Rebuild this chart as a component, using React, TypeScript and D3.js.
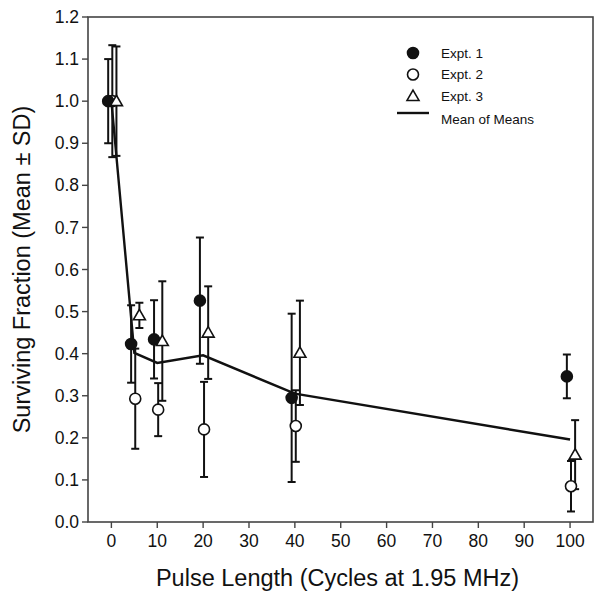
import * as d3 from "d3";

// pulse lengths (cycles)
const pulseLengths = [0, 5, 10, 20, 40, 100];

// surviving fraction, mean and SD per experiment
const expt1Mean = [1.0, 0.423, 0.434, 0.526, 0.295, 0.346];
const expt1SD = [0.1, 0.092, 0.093, 0.15, 0.2, 0.052];
const expt2Mean = [1.0, 0.293, 0.267, 0.22, 0.228, 0.085];
const expt2SD = [0.133, 0.119, 0.063, 0.113, 0.085, 0.06];
const expt3Mean = [1.0, 0.491, 0.43, 0.45, 0.402, 0.16];
const expt3SD = [0.13, 0.03, 0.142, 0.11, 0.124, 0.082];
const meanOfMeans = [1.0, 0.402, 0.378, 0.396, 0.305, 0.196];

const xTicks = [0, 10, 20, 30, 40, 50, 60, 70, 80, 90, 100];
const yTicks = [0, 0.1, 0.2, 0.3, 0.4, 0.5, 0.6, 0.7, 0.8, 0.9, 1.0, 1.1, 1.2];

const legendLabels = ["Expt. 1", "Expt. 2", "Expt. 3", "Mean of Means"];

const W = 604;
const H = 597;
const margin = { left: 88, right: 11, top: 17, bottom: 75 };
const FONT = "'Liberation Sans', Arial, Helvetica, sans-serif";
const INK = "#111";

export default function App() {
  const x = d3
    .scaleLinear()
    .domain([-5.1, 105])
    .range([margin.left, W - margin.right]);
  const y = d3
    .scaleLinear()
    .domain([0, 1.2])
    .range([H - margin.bottom, margin.top]);

  const series = [
    { mean: expt1Mean, sd: expt1SD, dx: -0.7, kind: "filled" },
    { mean: expt2Mean, sd: expt2SD, dx: 0.2, kind: "open" },
    { mean: expt3Mean, sd: expt3SD, dx: 1.1, kind: "tri" },
  ];
  // open circles sit underneath the other markers
  const drawOrder = [1, 0, 2];

  const line = d3
    .line<number>()
    .x((_, i) => x(pulseLengths[i]))
    .y((d) => y(d));

  const tri = d3.symbol().type(d3.symbolTriangle).size(62)();
  const r = 5.5;
  const cap = 4;

  const marker = (kind: string, cx: number, cy: number, key?: string) => {
    if (kind === "tri")
      return (
        <path key={key} d={tri!} transform={`translate(${cx},${cy + 1})`} fill="#fff" stroke={INK} strokeWidth={1.6} />
      );
    return (
      <circle key={key} cx={cx} cy={cy} r={r} fill={kind === "filled" ? INK : "#fff"} stroke={INK} strokeWidth={1.6} />
    );
  };

  const x0 = margin.left;
  const x1 = W - margin.right;
  const yb = H - margin.bottom;

  const legX = 413;
  const legY = [53, 74.5, 96, 113];

  return (
    <svg
      width={W}
      height={H}
      style={{ position: "absolute", left: 0, top: 0, background: "#fff" }}
      fontFamily={FONT}
    >
      {/* frame */}
      <rect x={x0} y={margin.top} width={x1 - x0} height={yb - margin.top} fill="none" stroke="#444" strokeWidth={1.6} />

      {/* y ticks */}
      {yTicks.map((t) => (
        <g key={t}>
          <line x1={x0 - 6} x2={x0} y1={y(t)} y2={y(t)} stroke="#444" strokeWidth={1.4} />
          <text x={x0 - 9} y={y(t)} dy="0.35em" textAnchor="end" fontSize={17.5} fill={INK}>
            {t.toFixed(1)}
          </text>
        </g>
      ))}

      {/* x ticks */}
      {xTicks.map((t) => (
        <g key={t}>
          <line x1={x(t)} x2={x(t)} y1={yb} y2={yb + 6} stroke="#444" strokeWidth={1.4} />
          <text x={x(t)} y={yb + 25} textAnchor="middle" fontSize={17.5} fill={INK}>
            {t}
          </text>
        </g>
      ))}

      {/* axis titles */}
      <text x={(x0 + x1) / 2 - 3} y={586} textAnchor="middle" fontSize={23.5} fill={INK}>
        Pulse Length (Cycles at 1.95 MHz)
      </text>
      <text
        transform={`translate(30,${(margin.top + yb) / 2}) rotate(-90)`}
        textAnchor="middle"
        fontSize={23.5}
        fill={INK}
      >
        Surviving Fraction (Mean ± SD)
      </text>

      {/* error bars */}
      {series.map((s, si) =>
        s.mean.map((m, i) => {
          const cx = x(pulseLengths[i] + s.dx);
          const top = y(m + s.sd[i]);
          const bot = y(m - s.sd[i]);
          return (
            <g key={`e${si}-${i}`} stroke={INK} strokeWidth={2}>
              <line x1={cx} x2={cx} y1={top} y2={bot} />
              <line x1={cx - cap} x2={cx + cap} y1={top} y2={top} />
              <line x1={cx - cap} x2={cx + cap} y1={bot} y2={bot} />
            </g>
          );
        })
      )}

      {/* mean of means */}
      <path d={line(meanOfMeans)!} fill="none" stroke={INK} strokeWidth={2.4} />

      {/* markers */}
      {drawOrder.map((si) =>
        series[si].mean.map((m, i) =>
          marker(series[si].kind, x(pulseLengths[i] + series[si].dx), y(m), `m${si}-${i}`)
        )
      )}

      {/* legend */}
      {series.map((s, i) => (
        <g key={`l${i}`}>
          {marker(s.kind, legX, legY[i])}
          <text x={441} y={legY[i]} dy="0.35em" fontSize={13.5} fill={INK}>
            {legendLabels[i]}
          </text>
        </g>
      ))}
      <line x1={397} x2={429} y1={legY[3]} y2={legY[3]} stroke={INK} strokeWidth={2.4} />
      <text x={441} y={legY[3] + 6} dy="0.35em" fontSize={13.5} fill={INK}>
        {legendLabels[3]}
      </text>
    </svg>
  );
}
